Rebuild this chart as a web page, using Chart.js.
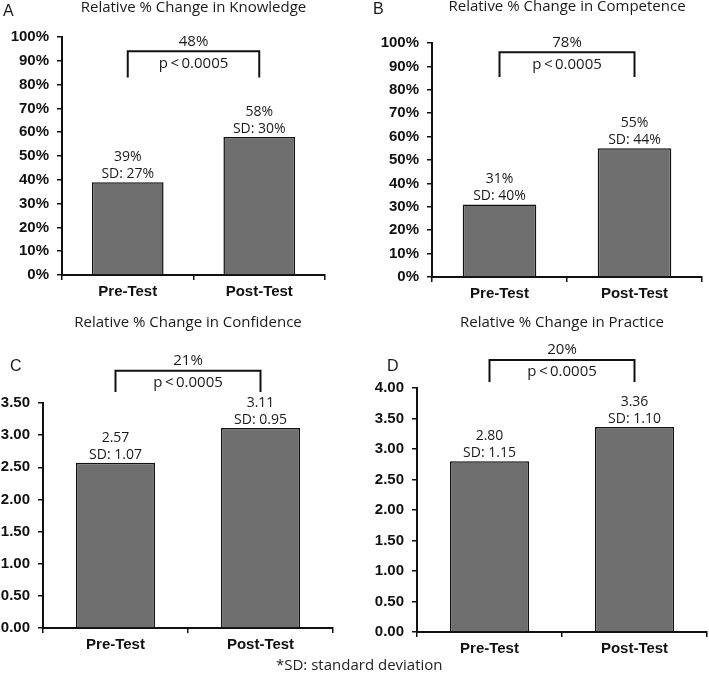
<!DOCTYPE html>
<html>
<head>
<meta charset="utf-8">
<script src="https://cdn.jsdelivr.net/npm/chart.js@4"></script>
<style>
  body { margin: 0; background: #fff; }
  #wrap { position: relative; width: 709px; height: 681px; }
  canvas { position: absolute; }
  #note { position: absolute; left: 276px; top: 654px; font: 15px "Open Sans", sans-serif; color: #222; }
</style>
</head>
<body>
<div id="wrap">
  <canvas id="cA" width="345" height="310" style="left:0;top:0"></canvas>
  <canvas id="cB" width="354" height="310" style="left:355px;top:0"></canvas>
  <canvas id="cC" width="345" height="345" style="left:0;top:310px"></canvas>
  <canvas id="cD" width="354" height="345" style="left:355px;top:310px"></canvas>
  <div id="note">*SD: standard deviation</div>
</div>
<script>
// Data
const categories = ['Pre-Test', 'Post-Test'];

const knowledge = [39, 58];
const knowledgeSD = ['27%', '30%'];
const competence = [31, 55];
const competenceSD = ['40%', '44%'];
const confidence = [2.57, 3.11];
const confidenceSD = ['1.07', '0.95'];
const practice = [2.80, 3.36];
const practiceSD = ['1.15', '1.10'];

const titles = [
    'Relative % Change in Knowledge',
    'Relative % Change in Competence',
    'Relative % Change in Confidence',
    'Relative % Change in Practice'
];
const relChange = ['48%', '78%', '21%', '20%'];
const pValue = 'p\u2009<\u20090.0005';

// Draws title, panel letter, bar labels and the significance bracket
const annotations = {
    id: 'annotations',
    afterDraw(chart, args, o) {
        const { ctx, chartArea: a, scales: { y } } = chart;
        const bars = chart.getDatasetMeta(0).data;
        ctx.save();
        ctx.fillStyle = '#1a1a1a';
        ctx.textBaseline = 'middle';

        ctx.textAlign = 'center';
        ctx.font = '15px "Open Sans"';
        ctx.fillText(o.title, (a.left + a.right) / 2, o.titleY);

        ctx.textAlign = 'left';
        ctx.font = '16px "Liberation Sans"';
        ctx.fillText(o.letter, o.letterX, o.letterY);

        ctx.textAlign = 'center';
        ctx.font = '14px "Open Sans"';
        bars.forEach((bar, i) => {
            ctx.fillText(o.labels[i], bar.x, bar.y - 25);
            ctx.fillText('SD: ' + o.sds[i], bar.x, bar.y - 8);
        });

        // bracket between the two bar centres
        const x0 = bars[0].x, x1 = bars[1].x;
        const yt = y.getPixelForValue(o.top), yl = y.getPixelForValue(o.leg);
        ctx.strokeStyle = '#111';
        ctx.lineWidth = 2;
        ctx.beginPath();
        ctx.moveTo(x0, yl);
        ctx.lineTo(x0, yt);
        ctx.lineTo(x1, yt);
        ctx.lineTo(x1, yl);
        ctx.stroke();

        ctx.font = '15px "Open Sans"';
        const mid = (x0 + x1) / 2;
        ctx.fillText(o.change, mid, yt - 10);
        ctx.fillText(pValue, mid, yt + 12);
        ctx.restore();
    }
};

function makePanel(id, values, opts) {
    const canvas = document.getElementById(id);
    const W = canvas.width, H = canvas.height;
    const [l, t, r, b] = opts.area;   // plot area inside the canvas

    return new Chart(canvas, {
        type: 'bar',
        data: {
            labels: categories,
            datasets: [{
                data: values,
                backgroundColor: '#6f6f6f',
                borderColor: '#111',
                borderWidth: 1.5,
                borderSkipped: 'bottom',
                categoryPercentage: 1,
                barPercentage: 0.545
            }]
        },
        options: {
            responsive: false,
            animation: false,
            layout: { padding: { left: 0, top: t, right: W - r, bottom: 0 } },
            plugins: {
                legend: { display: false },
                tooltip: { enabled: false },
                annotations: opts.annot
            },
            scales: {
                x: {
                    afterFit: s => { s.height = H - b; },
                    grid: { drawOnChartArea: false, tickLength: 5, color: '#111', lineWidth: 1.5 },
                    border: { color: '#111', width: 2 },
                    ticks: {
                        color: '#111',
                        padding: 3,
                        font: { family: 'Liberation Sans', size: 15, weight: 'bold' }
                    }
                },
                y: {
                    min: 0,
                    max: opts.max,
                    afterFit: s => { s.width = l; },
                    grid: { drawOnChartArea: false, tickLength: 5, color: '#111', lineWidth: 1.5 },
                    border: { color: '#111', width: 2 },
                    ticks: {
                        stepSize: opts.step,
                        color: '#111',
                        padding: 8,
                        font: { family: 'Liberation Sans', size: 15, weight: 'bold' },
                        callback: opts.fmt
                    }
                }
            }
        },
        plugins: [annotations]
    });
}

const pct = v => v + '%';
const dec = v => v.toFixed(2);

makePanel('cA', knowledge, {
    area: [62, 37, 325, 275], max: 100, step: 10, fmt: pct,
    annot: { title: titles[0], titleY: 8, letter: 'A', letterX: 3, letterY: 12,
             labels: knowledge.map(pct), sds: knowledgeSD, top: 94, leg: 83, change: relChange[0] }
});

makePanel('cB', competence, {
    area: [77, 43, 347, 277], max: 100, step: 10, fmt: pct,
    annot: { title: titles[1], titleY: 7, letter: 'B', letterX: 18, letterY: 10,
             labels: competence.map(pct), sds: competenceSD, top: 96, leg: 85.5, change: relChange[1] }
});

makePanel('cC', confidence, {
    area: [43, 93, 333, 318], max: 3.5, step: 0.5, fmt: dec,
    annot: { title: titles[2], titleY: 13, letter: 'C', letterX: 10, letterY: 57,
             labels: confidence.map(dec), sds: confidenceSD, top: 4.0, leg: 3.67, change: relChange[2] }
});

makePanel('cD', practice, {
    area: [62, 78, 352, 322], max: 4, step: 0.5, fmt: dec,
    annot: { title: titles[3], titleY: 13, letter: 'D', letterX: 32, letterY: 57,
             labels: practice.map(dec), sds: practiceSD, top: 4.46, leg: 4.10, change: relChange[3] }
});
</script>
</body>
</html>
